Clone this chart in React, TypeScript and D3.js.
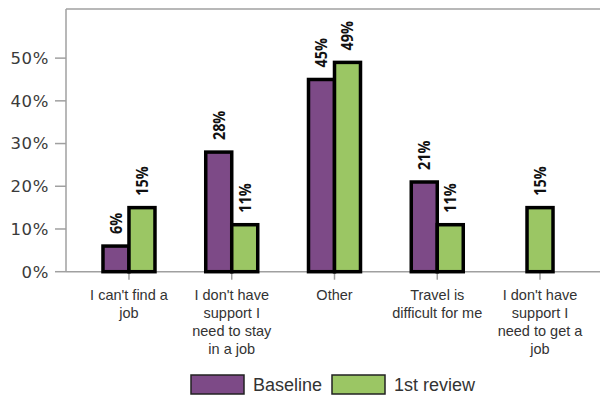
import React from "react";
import * as d3 from "d3";

const categories: string[][] = [
  ["I can't find a", "job"],
  ["I don't have", "support I", "need to stay", "in a job"],
  ["Other"],
  ["Travel is", "difficult for me"],
  ["I don't have", "support I", "need to get a", "job"],
];
const baseline: (number | null)[] = [6, 28, 45, 21, null];
const review: (number | null)[] = [15, 11, 49, 11, 15];
const yTicks = [0, 10, 20, 30, 40, 50];
const seriesNames = ["Baseline", "1st review"];
const colors = ["#7d4a87", "#9bc664"];

export default function App() {
  const W = 600, H = 398;
  const x = d3.scaleBand<number>().domain(d3.range(categories.length)).range([77.6, 591.4]);
  const y = d3.scaleLinear().domain([0, 61.5]).range([271.7, 9]);
  const left = 66, top = 9, bottom = y(0);
  const bw = 26;
  const bars: { cx: number; v: number; s: number; x0: number }[] = [];
  categories.forEach((_, i) => {
    const c = (x(i) as number) + x.bandwidth() / 2;
    const b = baseline[i], r = review[i];
    if (b != null && r != null) {
      bars.push({ cx: c, v: b, s: 0, x0: c - bw });
      bars.push({ cx: c, v: r, s: 1, x0: c });
    } else if (r != null) {
      bars.push({ cx: c, v: r, s: 1, x0: c - bw / 2 });
    } else if (b != null) {
      bars.push({ cx: c, v: b, s: 0, x0: c - bw / 2 });
    }
  });
  const font = "'Liberation Sans', Arial, sans-serif";
  return (
    <svg width={W} height={H} style={{ position: "absolute", left: 0, top: 0, background: "#fff" }}>
      <g>
        <line x1={left} y1={top} x2={W + 2} y2={top} stroke="#a0a0a0" strokeWidth={1.5} />
        <line x1={left} y1={top} x2={left} y2={bottom} stroke="#a0a0a0" strokeWidth={1.5} />
        <line x1={left} y1={bottom} x2={W + 2} y2={bottom} stroke="#a0a0a0" strokeWidth={1.5} />
        {yTicks.map((t) => (
          <g key={t}>
            <line x1={55} x2={left} y1={y(t)} y2={y(t)} stroke="#a0a0a0" strokeWidth={1.5} />
            <text x={49} y={y(t)} dy="0.36em" textAnchor="end" fontFamily="'DejaVu Sans', sans-serif" fontSize={16.5} letterSpacing={0.6} fill="#3a3a3a">
              {t}%
            </text>
          </g>
        ))}
        {categories.map((lines, i) => {
          const c = (x(i) as number) + x.bandwidth() / 2;
          return (
            <g key={i}>
              <line x1={c} x2={c} y1={bottom} y2={bottom + 8} stroke="#a0a0a0" strokeWidth={1.5} />
              {lines.map((l, j) => (
                <text key={j} x={c} y={300 + j * 18} textAnchor="middle" fontFamily={font} fontSize={14.5} fill="#333">
                  {l}
                </text>
              ))}
            </g>
          );
        })}
        {bars.map((b, k) => (
          <g key={k}>
            <rect x={b.x0} y={y(b.v)} width={bw} height={bottom - y(b.v)} fill={colors[b.s]} stroke="#000" strokeWidth={3.5} />
            <text
              transform={`translate(${b.x0 + bw / 2 + 5.8},${y(b.v) - 12}) rotate(-90) scale(0.9,1)`}
              fontFamily="'Open Sans', sans-serif"
              fontWeight="bold"
              fontSize={16}
              fill="#111"
            >
              {b.v}%
            </text>
          </g>
        ))}
        {seriesNames.map((n, i) => {
          const lx = [191, 332][i];
          return (
            <g key={n}>
              <rect x={lx} y={375} width={53} height={19} fill={colors[i]} stroke="#222" strokeWidth={1.5} />
              <text x={lx + 62} y={384.5} dy="0.35em" fontFamily={font} fontSize={18} fill="#333">
                {n}
              </text>
            </g>
          );
        })}
      </g>
    </svg>
  );
}
